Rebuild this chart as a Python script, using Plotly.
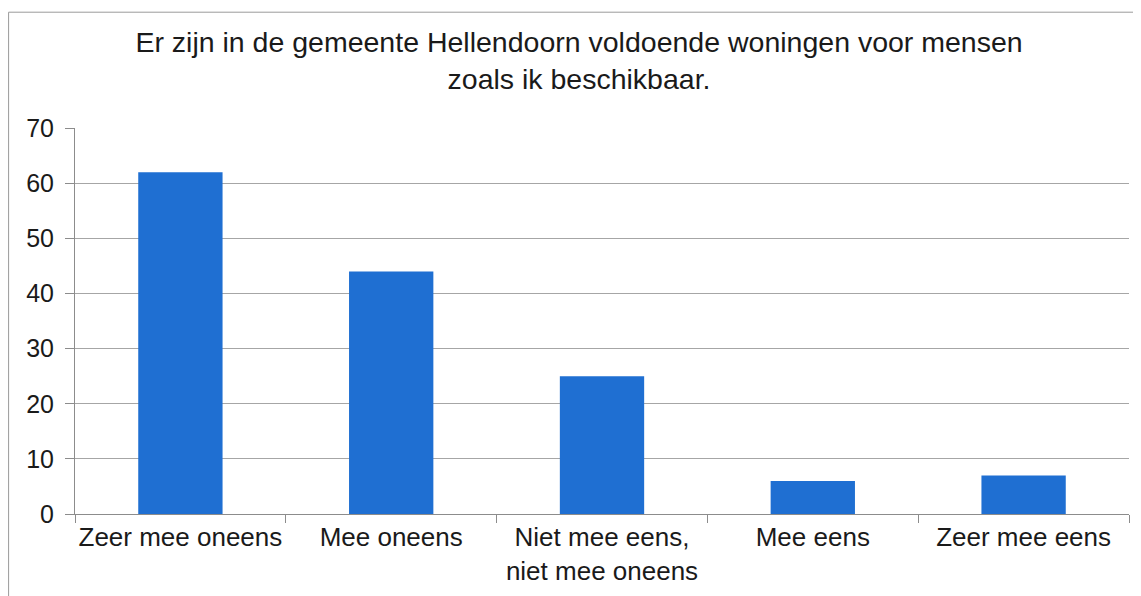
import plotly.graph_objects as go

categorieen = ["Zeer mee oneens", "Mee oneens", "Niet mee eens,<br>niet mee oneens", "Mee eens", "Zeer mee eens"]
aantallen = [62, 44, 25, 6, 7]
y_ticks = [0, 10, 20, 30, 40, 50, 60, 70]

fig = go.Figure()

fig.add_trace(
    go.Bar(
        x=categorieen,
        y=aantallen,
        marker=dict(color="#1F6FD2", line=dict(width=0)),
        width=0.4,
    )
)

# de pagina heeft 8px body-marge, dus figuur iets kleiner
fig.update_layout(
    width=1133,
    height=588,
    margin=dict(l=67, r=12, t=120, b=82),
    paper_bgcolor="white",
    plot_bgcolor="white",
    font=dict(family="Liberation Sans, Arial, sans-serif", color="#1a1a1a"),
    title=dict(
        text="Er zijn in de gemeente Hellendoorn voldoende woningen voor mensen<br>zoals ik beschikbaar.",
        x=0.504,
        xanchor="center",
        xref="container",
        y=0.926,
        yanchor="middle",
        yref="container",
        font=dict(size=28.5),
        automargin=False,
    ),
    showlegend=False,
    xaxis=dict(
        showline=True,
        linecolor="#8c8c8c",
        linewidth=1,
        ticks="outside",
        tickson="boundaries",
        ticklen=8,
        tickcolor="#8c8c8c",
        tickangle=0,
        tickfont=dict(size=26),
        showgrid=False,
        automargin=False,
    ),
    yaxis=dict(
        range=[0, 70.05],
        tickvals=y_ticks,
        showline=True,
        linecolor="#8c8c8c",
        linewidth=1,
        ticks="outside",
        ticklen=9,
        tickcolor="#8c8c8c",
        ticklabelstandoff=6,
        gridcolor="#a6a6a6",
        gridwidth=1,
        tickfont=dict(size=25),
        zeroline=False,
        automargin=False,
    ),
    shapes=[
        dict(
            type="rect",
            xref="paper", yref="paper",
            x0=-0.063, x1=1.02, y0=-0.3, y1=1.3,
            line=dict(color="#9a9a9a", width=1),
            layer="below",
        )
    ],
)

fig.write_html("out.html")
